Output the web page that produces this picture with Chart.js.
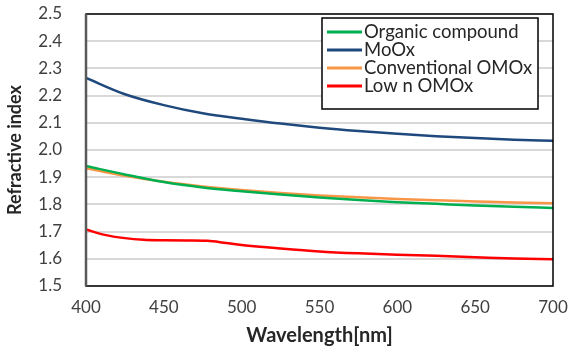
<!DOCTYPE html>
<html>
<head>
<meta charset="utf-8">
<script src="https://cdn.jsdelivr.net/npm/chart.js@4"></script>
<style>
    html, body { margin: 0; padding: 0; background: #fff; }
    #wrap { width: 570px; height: 352px; }
</style>
</head>
<body>
<div id="wrap"><canvas id="chart" width="570" height="352"></canvas></div>
<script>
// Wavelength samples (nm)
const wavelengths = [400, 425, 450, 475, 500, 525, 550, 575, 600, 625, 650, 675, 700];
const organicCompound = [1.941, 1.910, 1.882, 1.862, 1.848, 1.836, 1.825, 1.816, 1.808, 1.802, 1.796, 1.791, 1.787];
const moOx = [2.265, 2.205, 2.165, 2.135, 2.115, 2.097, 2.082, 2.070, 2.060, 2.051, 2.044, 2.038, 2.034];
const conventionalOMOx = [1.933, 1.905, 1.883, 1.866, 1.853, 1.842, 1.833, 1.826, 1.820, 1.815, 1.811, 1.807, 1.804];

// Low n OMOx has a small plateau, so it gets a finer sampling
const lowNWavelengths = [400, 412, 425, 437, 450, 465, 478, 490, 500, 525, 550, 575, 600, 625, 650, 675, 700];
const lowNOMOx = [1.708, 1.688, 1.676, 1.670, 1.668, 1.667, 1.666, 1.658, 1.651, 1.638, 1.627, 1.620, 1.615, 1.611, 1.606, 1.601, 1.598];

const seriesNames = ['Organic compound', 'MoOx', 'Conventional OMOx', 'Low n OMOx'];
const seriesColors = ['#00B050', '#1F497D', '#F79646', '#FF0000'];

function toPoints(xs, ys) {
    return xs.map(function (x, i) { return { x: x, y: ys[i] }; });
}

// frame around plot + boxed legend inside the plot
const framePlugin = {
    id: 'frame',
    afterDraw: function (chart) {
        const ctx = chart.ctx;
        const a = chart.chartArea;
        ctx.save();
        ctx.strokeStyle = '#000';
        ctx.lineWidth = 1.5;
        ctx.strokeRect(a.left, a.top, a.right - a.left, a.bottom - a.top);
        ctx.strokeStyle = '#595959';
        ctx.lineWidth = 2.5;
        ctx.beginPath();
        ctx.moveTo(a.left, a.top);
        ctx.lineTo(a.left, a.bottom);
        ctx.stroke();

        // legend
        const bx = 322, by = 18, bw = 216, bh = 91;
        ctx.fillStyle = '#fff';
        ctx.fillRect(bx, by, bw, bh);
        ctx.strokeStyle = '#000';
        ctx.lineWidth = 1.5;
        ctx.strokeRect(bx, by, bw, bh);
        ctx.font = '18.5px Lato';
        ctx.textBaseline = 'middle';
        chart.data.datasets.forEach(function (ds, i) {
            const y = by + 14 + i * 18;
            ctx.strokeStyle = ds.borderColor;
            ctx.lineWidth = 3;
            ctx.beginPath();
            ctx.moveTo(bx + 5, y);
            ctx.lineTo(bx + 40, y);
            ctx.stroke();
            ctx.fillStyle = '#262626';
            ctx.fillText(ds.label, bx + 42, y);
        });
        ctx.restore();
    }
};

const datasets = [
    { label: seriesNames[0], data: toPoints(wavelengths, organicCompound) },
    { label: seriesNames[1], data: toPoints(wavelengths, moOx) },
    { label: seriesNames[2], data: toPoints(wavelengths, conventionalOMOx) },
    { label: seriesNames[3], data: toPoints(lowNWavelengths, lowNOMOx) }
].map(function (ds, i) {
    ds.borderColor = seriesColors[i];
    ds.backgroundColor = seriesColors[i];
    ds.borderWidth = 2.5;
    ds.pointRadius = 0;
    ds.cubicInterpolationMode = 'monotone';
    ds.fill = false;
    return ds;
});

const ctx = document.getElementById('chart').getContext('2d');
new Chart(ctx, {
    type: 'line',
    data: { datasets: datasets },
    options: {
        responsive: false,
        animation: false,
        layout: { padding: { top: 14, right: 17, left: 0, bottom: 0 } },
        plugins: {
            legend: { display: false },
            tooltip: { enabled: false }
        },
        scales: {
            x: {
                type: 'linear',
                min: 400,
                max: 700,
                ticks: { stepSize: 50, color: '#404040', font: { family: 'Lato', size: 17 }, padding: 11 },
                grid: { display: false, drawTicks: false },
                border: { display: false },
                title: { display: true, text: 'Wavelength[nm]', color: '#262626', font: { family: 'Lato', size: 20, weight: 'bold' }, padding: { top: 1 } },
                afterFit: function (s) { s.height = 66; s.paddingLeft = 0; s.paddingRight = 0; }
            },
            y: {
                min: 1.5,
                max: 2.5,
                ticks: {
                    stepSize: 0.1,
                    color: '#404040',
                    font: { family: 'Lato', size: 17 },
                    padding: 24,
                    callback: function (v) { return v.toFixed(1); }
                },
                grid: { color: '#d9d9d9', lineWidth: 2, drawTicks: false },
                border: { display: false },
                title: { display: true, text: 'Refractive index', color: '#262626', font: { family: 'Lato', size: 18, weight: 'bold' }, padding: { bottom: 0 } },
                afterFit: function (s) { s.width = 86; s.paddingTop = 0; s.paddingBottom = 0; }
            }
        }
    },
    plugins: [framePlugin]
});
</script>
</body>
</html>
